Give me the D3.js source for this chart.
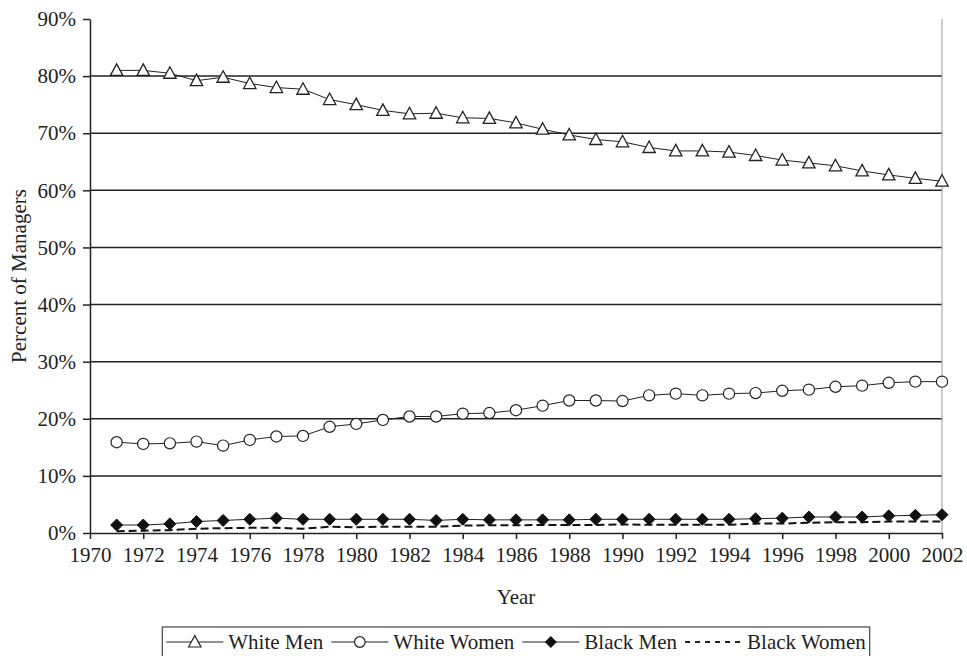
<!DOCTYPE html>
<html>
<head>
<meta charset="utf-8">
<script src="https://cdn.jsdelivr.net/npm/d3@7"></script>
<style>
  html, body { margin: 0; padding: 0; background: #fff; }
  svg { display: block; font-family: "Liberation Serif", "Times New Roman", serif; }
  svg text { font-family: "Liberation Serif", "Times New Roman", serif; }
</style>
</head>
<body>
<svg id="chart" width="967" height="656"></svg>
<script>
const years = [1971,1972,1973,1974,1975,1976,1977,1978,1979,1980,1981,1982,1983,1984,1985,1986,
               1987,1988,1989,1990,1991,1992,1993,1994,1995,1996,1997,1998,1999,2000,2001,2002];
const whiteMen = [81.0,81.0,80.5,79.2,79.8,78.7,78.0,77.7,75.9,75.0,74.0,73.4,73.5,72.7,72.6,71.8,
                  70.7,69.7,68.9,68.5,67.5,66.9,66.9,66.7,66.1,65.3,64.8,64.3,63.4,62.7,62.1,61.6];
const whiteWomen = [15.9,15.6,15.7,16.0,15.3,16.3,16.9,17.0,18.6,19.1,19.8,20.4,20.4,20.9,21.0,21.5,
                    22.3,23.2,23.2,23.1,24.1,24.4,24.1,24.4,24.5,24.9,25.1,25.6,25.8,26.3,26.5,26.5];
const blackMen = [1.4,1.4,1.6,2.0,2.2,2.4,2.6,2.4,2.4,2.4,2.4,2.4,2.2,2.4,2.3,2.3,
                  2.3,2.3,2.4,2.4,2.4,2.4,2.4,2.4,2.5,2.6,2.8,2.8,2.8,3.0,3.1,3.2];
const blackWomen = [0.3,0.4,0.5,0.75,0.85,0.9,0.9,0.75,1.1,1.0,1.1,1.1,1.1,1.3,1.35,1.35,
                    1.4,1.4,1.4,1.5,1.45,1.45,1.45,1.45,1.65,1.65,1.8,1.9,1.9,2.0,2.0,2.0];
const xTicks = [1970,1972,1974,1976,1978,1980,1982,1984,1986,1988,1990,1992,1994,1996,1998,2000,2002];
const yTicks = [0,10,20,30,40,50,60,70,80,90];
const seriesNames = ["White Men","White Women","Black Men","Black Women"];

(function () {
const svg = d3.select("#chart");
const pL = 90, pR = 942, pT = 19, pB = 533;
const x = d3.scaleLinear().domain([1970, 2002]).range([pL, pR]);
const y = d3.scaleLinear().domain([0, 90]).range([pB, pT]);
const FS = 21;
const SERIF = "Liberation Serif, Times New Roman, serif";

// gridlines
svg.append("g").selectAll("line").data(yTicks.filter(d => d > 0 && d < 90)).join("line")
  .attr("x1", pL).attr("x2", pR)
  .attr("y1", d => y(d)).attr("y2", d => y(d))
  .attr("stroke", "#222").attr("stroke-width", 1.5);

// right border
svg.append("line").attr("x1", pR).attr("x2", pR).attr("y1", pT).attr("y2", pB)
  .attr("stroke", "#999").attr("stroke-width", 1);

// y axis
const yAxis = svg.append("g").attr("transform", `translate(${pL},0)`)
  .call(d3.axisLeft(y).tickValues(yTicks).tickFormat(d => d + "%").tickSize(7).tickSizeOuter(0))
  .attr("font-family", SERIF).attr("font-size", FS);
yAxis.selectAll("text").attr("fill", "#222").attr("dx", "-4");
yAxis.selectAll("line, path").attr("stroke", "#222").attr("stroke-width", 1.5);

// x axis
const xAxis = svg.append("g").attr("transform", `translate(0,${pB})`)
  .call(d3.axisBottom(x).tickValues(xTicks).tickFormat(d3.format("d")).tickSize(6).tickSizeOuter(0))
  .attr("font-family", SERIF).attr("font-size", FS);
xAxis.selectAll("text").attr("fill", "#222").attr("dy", "0.95em");
xAxis.selectAll("line, path").attr("stroke", "#222").attr("stroke-width", 1.5);

// axis titles
svg.append("text").attr("transform", `translate(19,${(pT + pB) / 2}) rotate(-90)`)
  .attr("text-anchor", "middle").attr("dy", "0.35em").attr("font-size", FS).attr("fill", "#222").text("Percent of Managers");
svg.append("text").attr("x", (pL + pR) / 2).attr("y", 604)
  .attr("text-anchor", "middle").attr("font-size", FS).attr("fill", "#222").text("Year");

const line = d3.line().x(d => x(d[0])).y(d => y(d[1]));
const pairs = arr => years.map((yr, i) => [yr, arr[i]]);

const triPath = "M0,-6.5L6.2,5L-6.2,5Z";
const diaPath = "M0,-6L6,0L0,6L-6,0Z";

// Black Women dashed
svg.append("path").datum(pairs(blackWomen)).attr("d", line)
  .attr("fill", "none").attr("stroke", "#111").attr("stroke-width", 2).attr("stroke-dasharray", "8,4");

// Black Men
svg.append("path").datum(pairs(blackMen)).attr("d", line)
  .attr("fill", "none").attr("stroke", "#222").attr("stroke-width", 1);
svg.append("g").selectAll("path").data(pairs(blackMen)).join("path")
  .attr("transform", d => `translate(${x(d[0])},${y(d[1])})`).attr("d", diaPath)
  .attr("fill", "#111").attr("stroke", "#111").attr("stroke-width", 1);

// White Women
svg.append("path").datum(pairs(whiteWomen)).attr("d", line)
  .attr("fill", "none").attr("stroke", "#222").attr("stroke-width", 1);
svg.append("g").selectAll("circle").data(pairs(whiteWomen)).join("circle")
  .attr("cx", d => x(d[0])).attr("cy", d => y(d[1])).attr("r", 5.6)
  .attr("fill", "#fff").attr("stroke", "#222").attr("stroke-width", 1.2);

// White Men
svg.append("path").datum(pairs(whiteMen)).attr("d", line)
  .attr("fill", "none").attr("stroke", "#222").attr("stroke-width", 1);
svg.append("g").selectAll("path").data(pairs(whiteMen)).join("path")
  .attr("transform", d => `translate(${x(d[0])},${y(d[1])})`).attr("d", triPath)
  .attr("fill", "#fff").attr("stroke", "#222").attr("stroke-width", 1.3);

// Legend (centered under plot)
const lg = svg.append("g");
const ly = 642, seg = 57, gapA = 5, gapB = 8, pad = 4;
const types = ["tri", "circ", "dia", "dash"];
// measure text widths
const tmp = svg.append("text").attr("font-size", FS).attr("font-family", SERIF);
const widths = seriesNames.map(n => { tmp.text(n); return tmp.node().getComputedTextLength(); });
tmp.remove();
let total = pad * 2;
widths.forEach((w, i) => { total += seg + gapA + w + (i < 3 ? gapB : 0); });
const lgLeft = (pL + pR) / 2 - total / 2;
lg.append("rect").attr("x", lgLeft).attr("y", 627).attr("width", total).attr("height", 40)
  .attr("fill", "#fff").attr("stroke", "#444").attr("stroke-width", 1.2);
let cur = lgLeft + pad;
seriesNames.forEach((name, i) => {
  const type = types[i];
  const g = lg.append("g");
  const x0 = cur, x1 = cur + seg;
  g.append("line").attr("x1", x0).attr("x2", x1).attr("y1", ly).attr("y2", ly)
    .attr("stroke", "#222").attr("stroke-width", type === "dash" ? 1.8 : 1)
    .attr("stroke-dasharray", type === "dash" ? "5,5" : null);
  const cx = (x0 + x1) / 2;
  if (type === "tri") g.append("path").attr("transform", `translate(${cx},${ly})`).attr("d", triPath)
      .attr("fill", "#fff").attr("stroke", "#222").attr("stroke-width", 1.2);
  if (type === "circ") g.append("circle").attr("cx", cx).attr("cy", ly).attr("r", 5.3)
      .attr("fill", "#fff").attr("stroke", "#222").attr("stroke-width", 1.2);
  if (type === "dia") g.append("path").attr("transform", `translate(${cx},${ly})`).attr("d", diaPath)
      .attr("fill", "#111");
  g.append("text").attr("x", x1 + gapA).attr("y", ly).attr("dy", "0.33em").attr("font-size", FS)
    .attr("fill", "#222").text(name);
  cur = x1 + gapA + widths[i] + gapB;
});
})();
</script>
</body>
</html>
